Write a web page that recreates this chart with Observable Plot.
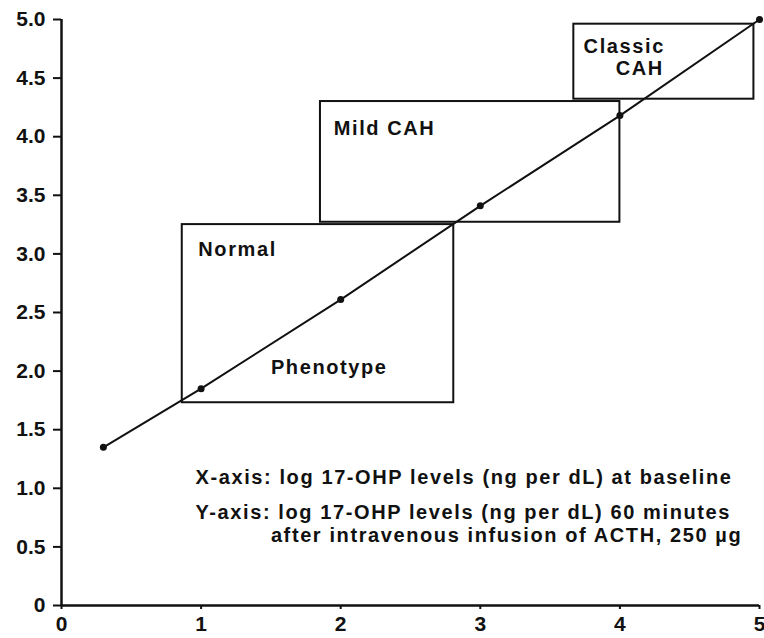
<!DOCTYPE html>
<html>
<head>
<meta charset="utf-8">
<script src="https://cdn.jsdelivr.net/npm/d3@7"></script>
<script src="https://cdn.jsdelivr.net/npm/@observablehq/plot@0.6"></script>
<style>
  html, body { margin: 0; padding: 0; background: #fff; }
  .lbl text { letter-spacing: 1.6px; }
  svg [aria-label*="tick label"] text { font-size: 21px !important; font-weight: bold !important; }
</style>
</head>
<body>
<div id="chart"></div>
<script>
// Data line: log baseline vs log stimulated 17-OHP
const lineX = [0.3, 1, 2, 3, 4, 5];
const lineY = [1.35, 1.85, 2.61, 3.41, 4.18, 5.0];

// Phenotype boxes
const boxNames = ["Normal", "Mild CAH", "Classic CAH"];
const boxX1 = [0.865, 1.855, 3.67];
const boxX2 = [2.81, 4.0, 4.96];
const boxY1 = [1.73, 3.27, 4.32];
const boxY2 = [3.25, 4.3, 4.96];

// Text labels (anchored at data coordinates)
const labelText = [
  "Normal", "Phenotype", "Mild CAH", "Classic", "CAH",
  "X-axis: log 17-OHP levels (ng per dL) at baseline",
  "Y-axis: log 17-OHP levels (ng per dL) 60 minutes",
  "after intravenous infusion of ACTH, 250 µg"
];
const labelX = [0.98, 1.5, 1.95, 3.74, 3.97, 0.96, 0.96, 1.5];
const labelY = [3.04, 2.03, 4.07, 4.77, 4.58, 1.09, 0.79, 0.6];

// Axis ticks
const xTicks = [0, 1, 2, 3, 4, 5];
const yTicks = [0, 0.5, 1, 1.5, 2, 2.5, 3, 3.5, 4, 4.5, 5];

const points = lineX.map((x, i) => ({x, y: lineY[i]}));
const boxes = boxNames.map((name, i) => ({name, x1: boxX1[i], x2: boxX2[i], y1: boxY1[i], y2: boxY2[i]}));
const labels = labelText.map((text, i) => ({text, x: labelX[i], y: labelY[i]}));

const font = "'Liberation Sans', Arial, Helvetica, sans-serif";

const chart = Plot.plot({
  width: 764,
  height: 638,
  marginLeft: 61,
  marginRight: 5,
  marginTop: 19,
  marginBottom: 33,
  style: {fontFamily: font, background: "#fff", color: "#111"},
  x: {domain: [0, 5]},
  y: {domain: [0, 5]},
  marks: [
    Plot.axisY({ticks: yTicks, tickSize: 8, tickPadding: 8, tickFormat: d => d === 0 ? "0" : d.toFixed(1), fontSize: 21, fontWeight: "bold", strokeWidth: 2, label: null}),
    Plot.axisX({ticks: xTicks, tickSize: 4, tickPadding: 7, tickFormat: d => String(d), fontSize: 21, fontWeight: "bold", strokeWidth: 2, label: null}),
    Plot.rect(boxes, {x1: "x1", x2: "x2", y1: "y1", y2: "y2", fill: "none", stroke: "#111", strokeWidth: 2}),
    Plot.ruleX([0], {y1: 0, y2: 5, stroke: "#111", strokeWidth: 2.5}),
    Plot.ruleY([0], {x1: 0, x2: 5, stroke: "#111", strokeWidth: 2.5}),
    Plot.line(points, {x: "x", y: "y", stroke: "#111", strokeWidth: 2}),
    Plot.dot(points, {x: "x", y: "y", r: 3.5, fill: "#111", stroke: "none"}),
    Plot.text(labels, {x: "x", y: "y", text: "text", textAnchor: "start", lineAnchor: "middle", fontSize: 20, fontWeight: "bold", fill: "#111", className: "lbl"})
  ]
});
document.getElementById("chart").appendChild(chart);
</script>
</body>
</html>
